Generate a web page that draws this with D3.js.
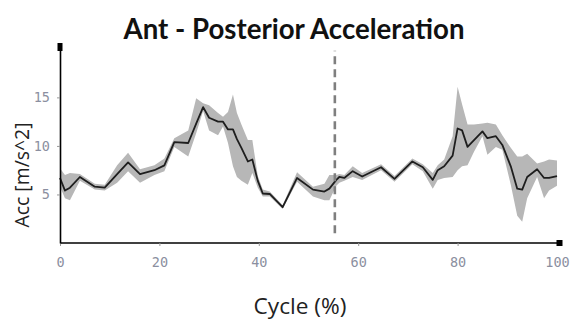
<!DOCTYPE html>
<html><head><meta charset="utf-8">
<script src="https://cdn.jsdelivr.net/npm/d3@7/dist/d3.min.js"></script>
<style>html,body{margin:0;padding:0;background:#fff;} svg{display:block}</style>
</head><body><svg id="c" width="572" height="320"></svg>
<script>
// ---- data ----
const cycle    = [0, 1, 2, 4, 7, 9, 11.5, 13.7, 16.1, 19, 21, 23, 25.8, 27.4, 28.8, 30, 31.8, 32.8, 33.8, 34.8, 35.6, 36.5, 37.8, 38.7, 39.8, 40.8, 42.2, 44.8, 47.7, 50.9, 53.2, 54.2, 55.6, 56.2, 57.2, 58.9, 60.8, 64.6, 67.3, 70.9, 73.0, 75.0, 76.0, 77.3, 79.0, 80.0, 80.9, 82.0, 83.3, 85.0, 86.0, 87.7, 89.0, 90.7, 92.0, 93.0, 94.0, 96.0, 97.4, 98.4, 100];
const meanAcc  = [6.7, 5.4, 5.7, 6.8, 5.8, 5.7, 7.1, 8.3, 7.1, 7.5, 8.0, 10.4, 10.3, 12.3, 14.0, 12.9, 12.5, 12.5, 11.7, 11.7, 10.7, 9.8, 8.4, 8.6, 6.4, 5.1, 5.05, 3.7, 6.7, 5.5, 5.3, 5.6, 6.5, 6.8, 6.7, 7.4, 6.85, 7.8, 6.6, 8.4, 7.8, 6.5, 7.5, 7.9, 9.0, 11.8, 11.6, 9.9, 10.6, 11.5, 10.8, 11.0, 10.1, 7.9, 5.6, 5.5, 6.8, 7.6, 6.7, 6.7, 6.9];
const upperAcc = [7.7, 7.0, 7.2, 7.1, 6.1, 6.0, 8.0, 9.3, 7.6, 8.0, 8.7, 10.8, 11.6, 14.9, 14.4, 14.2, 13.4, 13.0, 13.5, 15.3, 13.4, 12.2, 10.6, 10.6, 6.9, 5.5, 5.3, 3.9, 7.3, 5.8, 6.1, 7.0, 7.0, 7.1, 7.0, 7.9, 7.2, 8.1, 6.9, 8.7, 8.1, 7.2, 8.0, 8.6, 11.0, 16.1, 14.3, 12.2, 12.2, 12.3, 12.4, 12.2, 11.1, 9.8, 8.9, 8.9, 9.2, 8.2, 8.4, 8.6, 8.5];
const lowerAcc = [5.8, 4.6, 4.4, 6.4, 5.5, 5.4, 6.2, 7.4, 6.2, 7.0, 7.4, 9.9, 8.9, 11.3, 13.6, 11.6, 11.1, 12.0, 10.3, 7.9, 6.8, 6.4, 6.0, 7.2, 5.7, 4.8, 4.8, 3.5, 6.3, 4.8, 4.4, 4.4, 5.9, 6.2, 6.4, 6.8, 6.5, 7.5, 6.3, 8.1, 7.4, 5.6, 6.5, 6.7, 6.8, 7.5, 7.9, 8.0, 9.4, 11.0, 9.1, 9.9, 9.6, 6.0, 2.8, 2.2, 4.6, 6.8, 4.6, 5.4, 5.9];
const xTicks = [0, 20, 40, 60, 80, 100];
const yTicks = [5, 10, 15];
const markerCycle = 55.3;
const markerRange = [1, 19.8];
const titleText = "Ant - Posterior Acceleration";
const xLabel = "Cycle (%)";
const yLabel = "Acc [m/s^2]";

const rows = cycle.map((c, i) => ({c, m: meanAcc[i], u: upperAcc[i], l: lowerAcc[i]}));

const svg = d3.select("#c");
const x = d3.scaleLinear().domain([0, 100]).range([60, 557]);
const y = d3.scaleLinear().domain([0, 20.5]).range([243, 44]);

// band
svg.append("path").datum(rows)
  .attr("fill", "#b7b7b7")
  .attr("d", d3.area().x(d => x(d.c)).y0(d => y(d.l)).y1(d => y(d.u)));

// mean line
svg.append("path").datum(rows)
  .attr("fill", "none").attr("stroke", "#1e1e1e").attr("stroke-width", 1.8)
  .attr("stroke-linejoin", "round")
  .attr("d", d3.line().x(d => x(d.c)).y(d => y(d.m)));

// dashed marker
svg.append("line")
  .attr("x1", x(markerCycle)).attr("x2", x(markerCycle))
  .attr("y1", y(markerRange[0])).attr("y2", y(markerRange[1]))
  .attr("stroke", "#7f7f7f").attr("stroke-width", 2.6).attr("stroke-dasharray", "8,5");

// axes
const xAxis = svg.append("g").attr("transform", "translate(0,243)")
  .call(d3.axisBottom(x).tickValues(xTicks).tickSize(3).tickSizeOuter(0).tickFormat(d3.format("d")));
xAxis.select(".domain").attr("stroke", "#000").attr("stroke-width", 1.6).attr("d", `M${x(0)},0H560`);
xAxis.selectAll(".tick line").attr("stroke", "#999");
xAxis.selectAll(".tick text").attr("y", 24).attr("dy", null)
  .attr("font-family", "DejaVu Sans Mono").attr("font-size", 13.5).attr("fill", "#8b8fa0");

const yAxis = svg.append("g").attr("transform", "translate(60,0)")
  .call(d3.axisLeft(y).tickValues(yTicks).tickSize(3).tickSizeOuter(0).tickFormat(d3.format("d")));
yAxis.select(".domain").attr("stroke", "#000").attr("stroke-width", 1.6);
yAxis.selectAll(".tick line").attr("stroke", "#999");
yAxis.selectAll(".tick text").attr("x", -10)
  .attr("font-family", "DejaVu Sans Mono").attr("font-size", 13.5).attr("fill", "#8b8fa0");

// end markers
svg.append("rect").attr("x", 57.5).attr("y", 43).attr("width", 5).attr("height", 8).attr("fill", "#000");
svg.append("rect").attr("x", 556.5).attr("y", 240).attr("width", 6).attr("height", 6).attr("fill", "#000");

// title
const t = svg.append("text").attr("x", 294).attr("y", 39).attr("text-anchor", "middle")
  .attr("font-family", "Lato").attr("font-weight", "bold").attr("font-size", 30).attr("fill", "#111")
  .text(titleText);
const tw = t.node().getComputedTextLength();
t.attr("font-size", 30 * 341 / tw);

// axis labels
const xl = svg.append("text").attr("x", 300).attr("y", 314).attr("text-anchor", "middle")
  .attr("font-family", "Open Sans").attr("font-size", 15).attr("fill", "#222").text(xLabel);
const xw = xl.node().getComputedTextLength();
xl.attr("font-size", 15 * 93 / xw);

const yl = svg.append("text").attr("transform", "translate(29,175) rotate(-90)").attr("text-anchor", "middle")
  .attr("font-family", "Open Sans").attr("font-size", 14).attr("fill", "#222").text(yLabel);
const yw = yl.node().getComputedTextLength();
yl.attr("font-size", 14 * 105 / yw);
</script></body></html>
